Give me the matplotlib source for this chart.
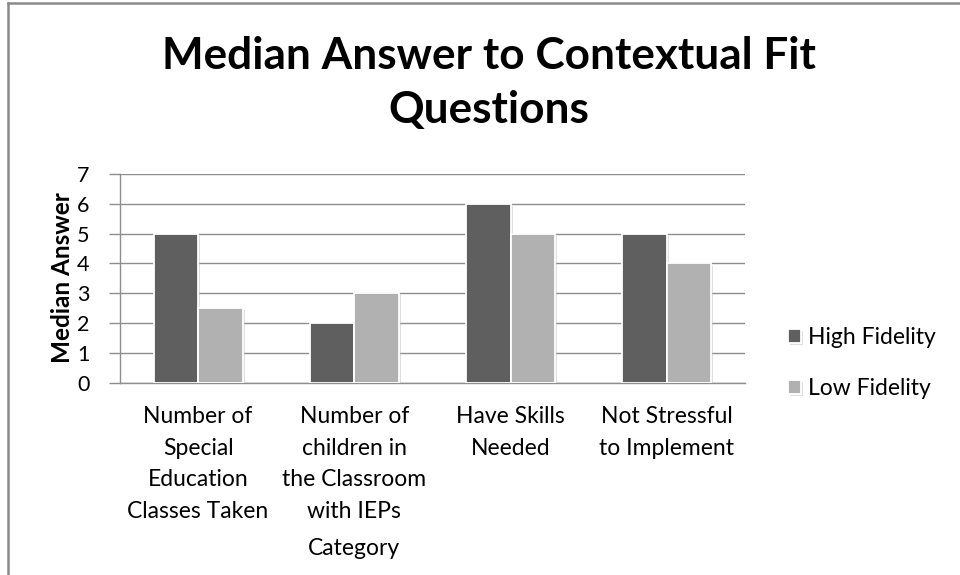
import numpy as np
import matplotlib.pyplot as plt
import matplotlib.patheffects as pe
from matplotlib.lines import Line2D

plt.rcParams['font.family'] = ['Lato', 'DejaVu Sans']

# Median answers per question
categories = ["Number of\nSpecial\nEducation\nClasses Taken",
              "Number of\nchildren in\nthe Classroom\nwith IEPs",
              "Have Skills\nNeeded",
              "Not Stressful\nto Implement"]
high_fidelity = [5, 2, 6, 5]
low_fidelity = [2.5, 3, 5, 4]
y_ticks = [0, 1, 2, 3, 4, 5, 6, 7]

dark = "#5f5f5f"
light = "#b1b1b1"
grid_col = "#8e8e8e"

fig = plt.figure(figsize=(9.6, 5.75), dpi=100)
ax = fig.add_axes([0.125, 0.3344, 0.651, 0.363])

x = np.arange(len(categories))
w = 0.285
shadow = [pe.SimplePatchShadow(offset=(1.5, -1.5), shadow_rgbFace="0.75", alpha=0.5), pe.Normal()]
b1 = ax.bar(x - w / 2, high_fidelity, w, color=dark, edgecolor="white", linewidth=1.3,
            label="High Fidelity", zorder=3)
b2 = ax.bar(x + w / 2, low_fidelity, w, color=light, edgecolor="white", linewidth=1.3,
            label="Low Fidelity", zorder=3)
for bar in list(b1) + list(b2):
    bar.set_path_effects(shadow)

ax.set_xlim(-0.5, len(categories) - 0.5)
ax.set_ylim(0, 7)
ax.set_yticks(y_ticks)
ax.set_yticklabels([str(t) for t in y_ticks], fontsize=15.5)
ax.set_xticks(x)
ax.set_xticklabels(categories, fontsize=16.5, linespacing=1.62, va="top")
ax.tick_params(axis="x", length=0, pad=17)
ax.tick_params(axis="y", length=8, width=1, color=grid_col, pad=14)

ax.yaxis.grid(True, color=grid_col, linewidth=1, zorder=0)
ax.set_axisbelow(True)
for s in ["top", "right"]:
    ax.spines[s].set_visible(False)
for s in ["left", "bottom"]:
    ax.spines[s].set_color(grid_col)
    ax.spines[s].set_linewidth(1)

ax.set_xlabel("Category", fontsize=16.5)
ax.xaxis.set_label_coords(0.374, -0.795)
ax.xaxis.label.set_va("center")

fig.text(62 / 960, 1 - 278 / 575, "Median Answer", rotation=90, fontsize=17.5,
         fontweight="bold", ha="center", va="center")

fig.text(489 / 960, 1 - 36 / 575, "Median Answer to Contextual Fit\nQuestions",
         fontsize=31.8, fontweight="bold", ha="center", va="top", linespacing=1.42)

fig.legend(handles=[b1, b2], loc="center left", bbox_to_anchor=(767 / 960, 1 - 363 / 575),
           frameon=False, fontsize=16.5, handlelength=0.6, handleheight=0.6,
           handletextpad=0.3, labelspacing=1.3)

# outer chart frame
fig.add_artist(Line2D([8 / 960, 1], [1 - 3 / 575, 1 - 3 / 575], color="#8a8a8a", linewidth=1.8))
fig.add_artist(Line2D([8 / 960, 8 / 960], [0, 1 - 3 / 575], color="#8a8a8a", linewidth=1.8))

fig.savefig("out.png", dpi=100)
